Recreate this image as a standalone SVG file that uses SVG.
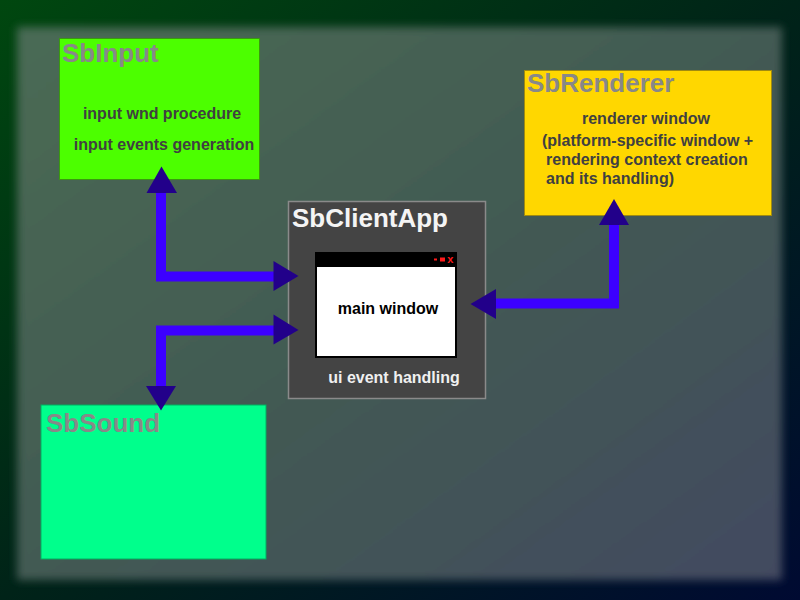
<svg xmlns="http://www.w3.org/2000/svg" width="800" height="600" viewBox="0 0 800 600">
<defs>
<linearGradient id="bgOuter" x1="0" y1="0" x2="1" y2="1">
<stop offset="0" stop-color="#00470f"/>
<stop offset="0.5" stop-color="#002318"/>
<stop offset="1" stop-color="#000a32"/>
</linearGradient>
<linearGradient id="bgInner" x1="0" y1="0" x2="1" y2="1">
<stop offset="0" stop-color="#4a6b54"/>
<stop offset="0.5" stop-color="#425a52"/>
<stop offset="1" stop-color="#434a60"/>
</linearGradient>
<filter id="blur" x="-5%" y="-5%" width="110%" height="110%">
<feGaussianBlur stdDeviation="4"/>
</filter>
<style>
.title{font-family:"Liberation Sans",Arial,sans-serif;font-weight:bold;font-size:26px;fill:#888888}
.body{font-family:"Liberation Sans",Arial,sans-serif;font-weight:bold;font-size:16px;fill:#404040}
.line{fill:none;stroke:#3c00ff;stroke-width:10;stroke-linejoin:miter;stroke-linecap:butt}
.head{fill:#22008a}
</style>
</defs>
<rect x="0" y="0" width="800" height="600" fill="url(#bgOuter)"/>
<rect x="17" y="27" width="765" height="553" fill="url(#bgInner)" filter="url(#blur)"/>

<g id="SbInput">
<rect x="59.5" y="38.5" width="200" height="141" fill="#4cff00" stroke="#3a9a10" stroke-width="1"/>
<text class="title" x="62" y="62">SbInput</text>
<text class="body" x="162" y="119" text-anchor="middle">input wnd procedure</text>
<text class="body" x="164" y="150" text-anchor="middle">input events generation</text>
</g>

<g id="SbRenderer">
<rect x="524.5" y="70.5" width="247" height="145" fill="#ffd700" stroke="#a08a10" stroke-width="1"/>
<text class="title" x="527" y="92">SbRenderer</text>
<text class="body" x="646" y="124" text-anchor="middle">renderer window</text>
<text class="body" x="542" y="146">(platform-specific window +</text>
<text class="body" x="546" y="165">rendering context creation</text>
<text class="body" x="546" y="184">and its handling)</text>
</g>

<g id="SbClientApp">
<rect x="288.5" y="201.5" width="197" height="197" fill="#444444" stroke="#8a8a8a" stroke-width="1.5"/>
<text class="title" x="292" y="227" style="fill:#f4f4f4">SbClientApp</text>
<g id="mainWindow">
<rect x="315" y="252" width="142" height="106" fill="#000000"/>
<rect x="317" y="267" width="138" height="89" fill="#ffffff"/>
<rect x="434" y="258.5" width="3" height="2" fill="#ff1a1a"/>
<rect x="440" y="257.5" width="5" height="4" fill="#ff1a1a"/>
<text x="450.3" y="263" text-anchor="middle" style="font-family:'Liberation Sans',Arial,sans-serif;font-weight:bold;font-size:11px;fill:#ff1a1a">x</text>
<text class="body" x="388" y="314" text-anchor="middle" style="fill:#000000">main window</text>
</g>
<text class="body" x="394" y="383" text-anchor="middle" style="fill:#f0f0f0">ui event handling</text>
</g>

<g id="SbSound">
<rect x="41" y="405" width="225" height="154" fill="#00ff8c" stroke="#00b060" stroke-width="1"/>
<text class="title" x="46" y="432">SbSound</text>
</g>

<g id="connectors">
<path class="line" d="M161,192 V276.5 H274"/>
<polygon class="head" points="161.5,166.5 146.5,193 177,193"/>
<polygon class="head" points="298.5,276 273.5,261 273.5,291"/>
<path class="line" d="M274,330.5 H161 V387"/>
<polygon class="head" points="298.5,330 273.5,314.5 273.5,344.5"/>
<polygon class="head" points="161,410.5 146,386 176,386"/>
<path class="line" d="M614,224 V303.5 H496"/>
<polygon class="head" points="614,199 599,225 629,225"/>
<polygon class="head" points="470.5,304 496,289 496,319"/>
</g>
</svg>
